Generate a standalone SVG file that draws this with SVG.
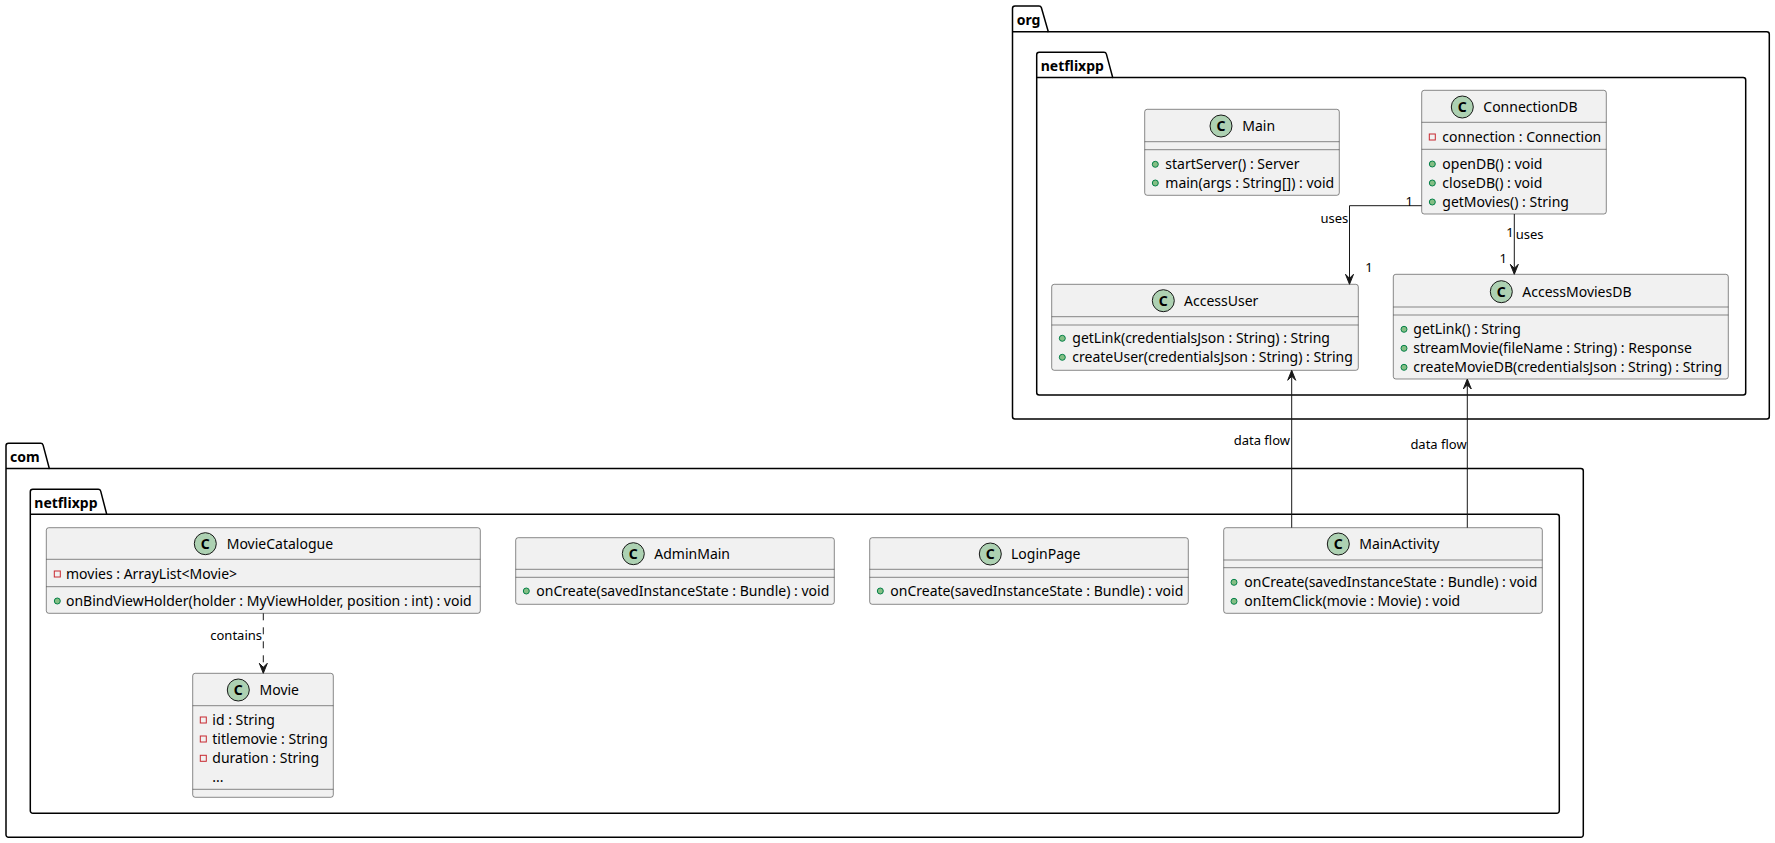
<svg xmlns="http://www.w3.org/2000/svg" width="1775" height="843" viewBox="0 0 1775 843">
  <defs>
    <style>
      text { font-family: "Noto Sans", "DejaVu Sans", sans-serif; font-size: 14px; fill: #000000; }
      .pkg { fill: none; stroke: #000000; stroke-width: 1.5; }
      .pkgname { font-weight: bold; }
      .box { fill: #F1F1F1; stroke: #181818; stroke-width: 0.5; }
      .sep { stroke: #181818; stroke-width: 0.5; }
      .badge { fill: #ADD1B2; stroke: #181818; stroke-width: 1; }
      .badgeC { font-weight: bold; text-anchor: middle; }
      .pub { fill: #84BE84; stroke: #038048; stroke-width: 1; }
      .priv { fill: none; stroke: #C82930; stroke-width: 1; }
      .edge { fill: none; stroke: #181818; stroke-width: 1; }
      .dash { stroke-dasharray: 7 7; }
      .head { fill: #181818; stroke: #181818; stroke-width: 1; }
      .lbl { font-size: 13px; }
      .end { text-anchor: end; }
      .mid { text-anchor: middle; }
    </style>
  </defs>

  <!-- packages -->
  <g id="pkg-org">
    <path class="pkg" d="M1012.5,31.7 L1012.5,8.5 A2.5,2.5 0 0 1 1015,6 L1039,6 A2.5,2.5 0 0 1 1041.4,7.8 L1048.3,31.7 L1766.8,31.7 A2.5,2.5 0 0 1 1769.3,34.2 L1769.3,416.5 A2.5,2.5 0 0 1 1766.8,419 L1015,419 A2.5,2.5 0 0 1 1012.5,416.5 Z"/>
    <line class="pkg" x1="1012.5" y1="31.7" x2="1048.3" y2="31.7"/>
    <text class="pkgname" x="1016.7" y="24.5">org</text>
  </g>
  <g id="pkg-org-netflixpp">
    <path class="pkg" d="M1036.7,77.5 L1036.7,54.8 A2.5,2.5 0 0 1 1039.2,52.3 L1104,52.3 A2.5,2.5 0 0 1 1106.4,54.1 L1112.7,77.5 L1743.2,77.5 A2.5,2.5 0 0 1 1745.7,80 L1745.7,392.5 A2.5,2.5 0 0 1 1743.2,395 L1039.2,395 A2.5,2.5 0 0 1 1036.7,392.5 Z"/>
    <line class="pkg" x1="1036.7" y1="77.5" x2="1112.7" y2="77.5"/>
    <text class="pkgname" x="1040.7" y="70.5">netflixpp</text>
  </g>
  <g id="pkg-com">
    <path class="pkg" d="M6,468.5 L6,445.8 A2.5,2.5 0 0 1 8.5,443.3 L40.7,443.3 A2.5,2.5 0 0 1 43.1,445.1 L49.3,468.5 L1580.8,468.5 A2.5,2.5 0 0 1 1583.3,471 L1583.3,834.8 A2.5,2.5 0 0 1 1580.8,837.3 L8.5,837.3 A2.5,2.5 0 0 1 6,834.8 Z"/>
    <line class="pkg" x1="6" y1="468.5" x2="49.3" y2="468.5"/>
    <text class="pkgname" x="10" y="461.5">com</text>
  </g>
  <g id="pkg-com-netflixpp">
    <path class="pkg" d="M30.3,514.3 L30.3,491.8 A2.5,2.5 0 0 1 32.8,489.3 L98.3,489.3 A2.5,2.5 0 0 1 100.7,491.1 L106.7,514.3 L1556.8,514.3 A2.5,2.5 0 0 1 1559.3,516.8 L1559.3,810.8 A2.5,2.5 0 0 1 1556.8,813.3 L32.8,813.3 A2.5,2.5 0 0 1 30.3,810.8 Z"/>
    <line class="pkg" x1="30.3" y1="514.3" x2="106.7" y2="514.3"/>
    <text class="pkgname" x="34.3" y="507.5">netflixpp</text>
  </g>

  <!-- org.netflixpp classes -->
  <g id="Main">
    <rect class="box" x="1144.7" y="109.3" width="194.6" height="86" rx="2.5"/>
    <circle class="badge" cx="1221" cy="126" r="11"/>
    <text class="badgeC" x="1221" y="131">C</text>
    <text x="1242.3" y="131">Main</text>
    <line class="sep" x1="1144.7" y1="141.7" x2="1339.3" y2="141.7"/>
    <line class="sep" x1="1144.7" y1="149.7" x2="1339.3" y2="149.7"/>
    <circle class="pub" cx="1155.3" cy="164.3" r="3"/>
    <text x="1165.3" y="168.8">startServer() : Server</text>
    <circle class="pub" cx="1155.3" cy="183" r="3"/>
    <text x="1165.3" y="187.5">main(args : String[]) : void</text>
  </g>

  <g id="ConnectionDB">
    <rect class="box" x="1421.7" y="90.3" width="184.6" height="123.7" rx="2.5"/>
    <circle class="badge" cx="1462.3" cy="107" r="11"/>
    <text class="badgeC" x="1462.3" y="112">C</text>
    <text x="1483.3" y="112">ConnectionDB</text>
    <line class="sep" x1="1421.7" y1="122.3" x2="1606.3" y2="122.3"/>
    <rect class="priv" x="1429.3" y="134" width="6" height="6"/>
    <text x="1442.3" y="141.5">connection : Connection</text>
    <line class="sep" x1="1421.7" y1="149.3" x2="1606.3" y2="149.3"/>
    <circle class="pub" cx="1432.3" cy="164" r="3"/>
    <text x="1442.3" y="168.5">openDB() : void</text>
    <circle class="pub" cx="1432.3" cy="183" r="3"/>
    <text x="1442.3" y="187.5">closeDB() : void</text>
    <circle class="pub" cx="1432.3" cy="202" r="3"/>
    <text x="1442.3" y="206.5">getMovies() : String</text>
  </g>

  <g id="AccessUser">
    <rect class="box" x="1051.7" y="284.3" width="306.6" height="86" rx="2.5"/>
    <circle class="badge" cx="1163.3" cy="300.7" r="11"/>
    <text class="badgeC" x="1163.3" y="305.7">C</text>
    <text x="1184" y="305.7">AccessUser</text>
    <line class="sep" x1="1051.7" y1="316.7" x2="1358.3" y2="316.7"/>
    <line class="sep" x1="1051.7" y1="325" x2="1358.3" y2="325"/>
    <circle class="pub" cx="1062.3" cy="338.3" r="3"/>
    <text x="1072.3" y="342.8">getLink(credentialsJson : String) : String</text>
    <circle class="pub" cx="1062.3" cy="357.3" r="3"/>
    <text x="1072.3" y="361.8">createUser(credentialsJson : String) : String</text>
  </g>

  <g id="AccessMoviesDB">
    <rect class="box" x="1393.3" y="274.3" width="335" height="104.7" rx="2.5"/>
    <circle class="badge" cx="1501.3" cy="291.7" r="11"/>
    <text class="badgeC" x="1501.3" y="296.7">C</text>
    <text x="1522.3" y="296.7">AccessMoviesDB</text>
    <line class="sep" x1="1393.3" y1="307" x2="1728.3" y2="307"/>
    <line class="sep" x1="1393.3" y1="315" x2="1728.3" y2="315"/>
    <circle class="pub" cx="1404" cy="329.3" r="3"/>
    <text x="1413.3" y="333.8">getLink() : String</text>
    <circle class="pub" cx="1404" cy="348.3" r="3"/>
    <text x="1413.3" y="352.8">streamMovie(fileName : String) : Response</text>
    <circle class="pub" cx="1404" cy="367.3" r="3"/>
    <text x="1413.3" y="371.8">createMovieDB(credentialsJson : String) : String</text>
  </g>

  <!-- com.netflixpp classes -->
  <g id="MovieCatalogue">
    <rect class="box" x="46.3" y="527.7" width="434" height="85.6" rx="2.5"/>
    <circle class="badge" cx="205.3" cy="543.7" r="11"/>
    <text class="badgeC" x="205.3" y="548.7">C</text>
    <text x="226.7" y="548.7">MovieCatalogue</text>
    <line class="sep" x1="46.3" y1="559.3" x2="480.3" y2="559.3"/>
    <rect class="priv" x="54.3" y="571" width="6" height="6"/>
    <text x="66" y="578.5">movies : ArrayList&lt;Movie&gt;</text>
    <line class="sep" x1="46.3" y1="586.7" x2="480.3" y2="586.7"/>
    <circle class="pub" cx="57.3" cy="601" r="3"/>
    <text x="66" y="605.5">onBindViewHolder(holder : MyViewHolder, position : int) : void</text>
  </g>

  <g id="Movie">
    <rect class="box" x="192.7" y="673.3" width="140.6" height="124" rx="2.5"/>
    <circle class="badge" cx="238.3" cy="690" r="11"/>
    <text class="badgeC" x="238.3" y="695">C</text>
    <text x="259.5" y="695">Movie</text>
    <line class="sep" x1="192.7" y1="705.7" x2="333.3" y2="705.7"/>
    <rect class="priv" x="200.3" y="717" width="6" height="6"/>
    <text x="212.3" y="724.5">id : String</text>
    <rect class="priv" x="200.3" y="736" width="6" height="6"/>
    <text x="212.3" y="743.5">titlemovie : String</text>
    <rect class="priv" x="200.3" y="755.3" width="6" height="6"/>
    <text x="212.3" y="762.8">duration : String</text>
    <text x="212.3" y="781.5">...</text>
    <line class="sep" x1="192.7" y1="789.3" x2="333.3" y2="789.3"/>
  </g>

  <g id="AdminMain">
    <rect class="box" x="515.7" y="537.7" width="318.6" height="66.6" rx="2.5"/>
    <circle class="badge" cx="633.3" cy="553.7" r="11"/>
    <text class="badgeC" x="633.3" y="558.7">C</text>
    <text x="654.3" y="558.7">AdminMain</text>
    <line class="sep" x1="515.7" y1="569.3" x2="834.3" y2="569.3"/>
    <line class="sep" x1="515.7" y1="577.3" x2="834.3" y2="577.3"/>
    <circle class="pub" cx="526.3" cy="591" r="3"/>
    <text x="536.3" y="595.5">onCreate(savedInstanceState : Bundle) : void</text>
  </g>

  <g id="LoginPage">
    <rect class="box" x="869.7" y="537.7" width="318.6" height="66.6" rx="2.5"/>
    <circle class="badge" cx="990.3" cy="554" r="11"/>
    <text class="badgeC" x="990.3" y="559">C</text>
    <text x="1011" y="559">LoginPage</text>
    <line class="sep" x1="869.7" y1="569.3" x2="1188.3" y2="569.3"/>
    <line class="sep" x1="869.7" y1="577.3" x2="1188.3" y2="577.3"/>
    <circle class="pub" cx="880.3" cy="591" r="3"/>
    <text x="890.3" y="595.5">onCreate(savedInstanceState : Bundle) : void</text>
  </g>

  <g id="MainActivity">
    <rect class="box" x="1223.7" y="527.7" width="318.6" height="85.6" rx="2.5"/>
    <circle class="badge" cx="1338.3" cy="544" r="11"/>
    <text class="badgeC" x="1338.3" y="549">C</text>
    <text x="1359.3" y="549">MainActivity</text>
    <line class="sep" x1="1223.7" y1="560" x2="1542.3" y2="560"/>
    <line class="sep" x1="1223.7" y1="567.7" x2="1542.3" y2="567.7"/>
    <circle class="pub" cx="1234" cy="582.3" r="3"/>
    <text x="1244.3" y="586.8">onCreate(savedInstanceState : Bundle) : void</text>
    <circle class="pub" cx="1234" cy="601.3" r="3"/>
    <text x="1244.3" y="605.8">onItemClick(movie : Movie) : void</text>
  </g>

  <!-- connectors -->
  <g id="connectors">
    <!-- ConnectionDB uses AccessUser -->
    <polyline class="edge" points="1421.7,205.7 1349.5,205.7 1349.5,283.5"/>
    <polygon class="head" points="1345.5,274.3 1349.5,284.3 1353.5,274.3 1349.5,278.3"/>
    <text class="lbl end" x="1348.3" y="222.5">uses</text>
    <text class="lbl mid" x="1409.3" y="205.5">1</text>
    <text class="lbl mid" x="1369" y="272.3">1</text>

    <!-- ConnectionDB uses AccessMoviesDB -->
    <line class="edge" x1="1514.3" y1="214" x2="1514.3" y2="273.5"/>
    <polygon class="head" points="1510.3,264.3 1514.3,274.3 1518.3,264.3 1514.3,268.3"/>
    <text class="lbl mid" x="1510" y="236.9">1</text>
    <text class="lbl" x="1515.7" y="239.2">uses</text>
    <text class="lbl mid" x="1503.3" y="262.9">1</text>

    <!-- MainActivity data flow to AccessUser -->
    <line class="edge" x1="1291.7" y1="527.7" x2="1291.7" y2="371"/>
    <polygon class="head" points="1287.7,380.3 1291.7,370.3 1295.7,380.3 1291.7,376.3"/>
    <text class="lbl end" x="1290" y="445.3">data flow</text>

    <!-- MainActivity data flow to AccessMoviesDB -->
    <line class="edge" x1="1467.3" y1="527.7" x2="1467.3" y2="379.8"/>
    <polygon class="head" points="1463.3,389 1467.3,379 1471.3,389 1467.3,385"/>
    <text class="lbl end" x="1466.7" y="449">data flow</text>

    <!-- MovieCatalogue contains Movie -->
    <line class="edge dash" x1="263.3" y1="613.3" x2="263.3" y2="672.5"/>
    <polygon class="head" points="259.3,663.3 263.3,673.3 267.3,663.3 263.3,667.3"/>
    <text class="lbl end" x="262" y="640">contains</text>
  </g>
</svg>
